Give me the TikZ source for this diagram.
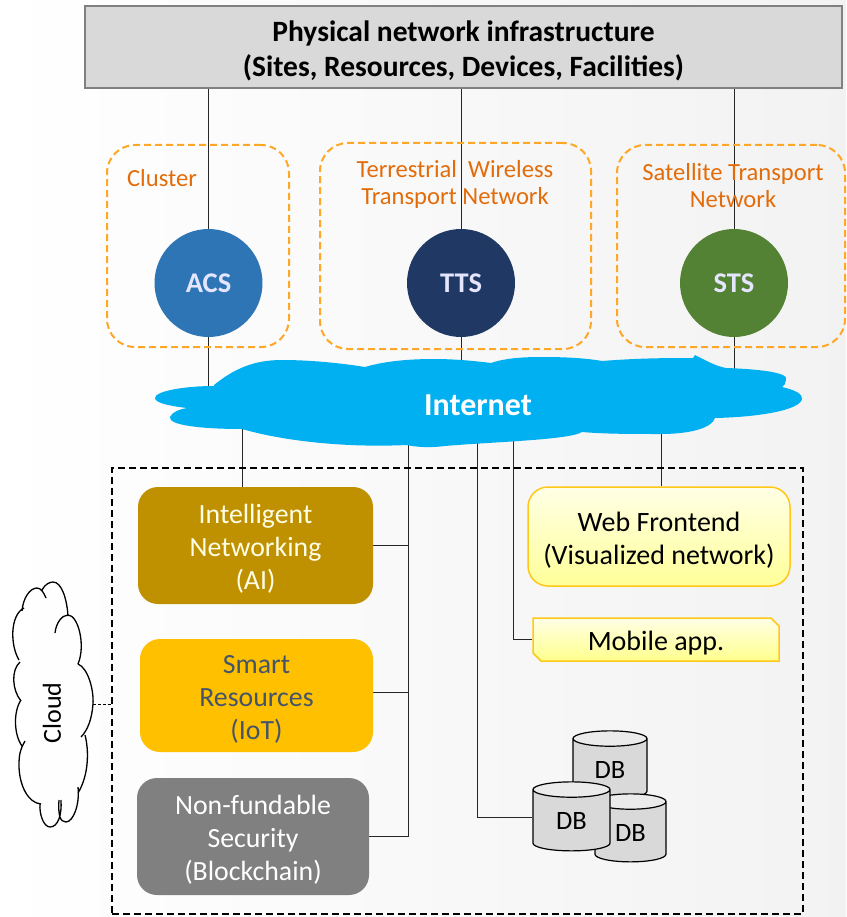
\documentclass[tikz,border=0pt]{standalone}
\usepackage{fontspec}
\setmainfont{Carlito}
\usepackage{tikz}
\usetikzlibrary{positioning,backgrounds,shapes.geometric,shapes.misc}

\definecolor{acsblue}{HTML}{2E75B6}
\definecolor{ttsblue}{HTML}{1F3864}
\definecolor{stsgreen}{HTML}{548235}
\definecolor{dashorange}{HTML}{FFA726}
\definecolor{labelorange}{HTML}{E36C0A}
\definecolor{inetblue}{HTML}{00B0F0}
\definecolor{aigold}{HTML}{BF9000}
\definecolor{iotamber}{HTML}{FFC000}
\definecolor{iottext}{HTML}{44546A}
\definecolor{frontline}{HTML}{FFC819}

\newcommand{\dropby}[1]{\rule{0pt}{#1}}

\tikzset{
  hub/.style={circle, fill=#1, minimum size=108pt, inner sep=0pt, text=white!90!blue,
    font=\fontsize{28.5}{32}\selectfont\bfseries},
  group/.style={draw=dashorange, dash pattern=on 7pt off 4pt, line width=2pt, rounded corners=28pt, inner sep=0pt},
  grouplabel/.style={text=labelorange, align=center, inner sep=0pt,
    font=\fontsize{24.6}{27}\selectfont},
  service/.style={rounded corners=20pt, fill=#1, align=center, inner sep=0pt,
    font=\fontsize{27.8}{33}\selectfont},
  front/.style={rounded corners=20pt, draw=frontline, line width=1.5pt, align=center, inner sep=0pt,
    top color=yellow!10, bottom color=yellow!40, text=black, font=\fontsize{28}{33}\selectfont},
  dbstack/.style={cylinder, shape border rotate=90, aspect=0.5, draw=black, line width=1.2pt,
    cylinder uses custom fill, cylinder body fill=black!15, cylinder end fill=black!8,
    inner sep=0pt, font=\fontsize{26.5}{30}\selectfont},
  wire/.style={draw=black!85, line width=0.8pt}
}

\begin{document}
\begin{tikzpicture}[x=1pt,y=-1pt,on grid]
   \useasboundingbox (0,0) rectangle (846,917);

   \node[draw=black!50, line width=1.5pt, fill=black!15, align=center, inner sep=0pt,
         minimum width=757pt, minimum height=82pt,
         font=\fontsize{29.5}{35}\selectfont\bfseries] (infra) at (463.5,47)
        {\dropby{28pt}Physical network infrastructure\\(Sites, Resources, Devices, Facilities)};

   % the three transport groups
   \node[hub=acsblue] (acs) at (208.5,283) {ACS};
   \node[hub=ttsblue] (tts) [right=252.5pt of acs] {TTS};
   \node[hub=stsgreen] (sts) [right=273pt of tts] {STS};

   \node[group, minimum width=182pt, minimum height=202pt] (clustergroup) at (198,246) {};
   \node[group, minimum width=271pt, minimum height=206pt] (ttsgroup) at (455.5,246) {};
   \node[group, minimum width=228pt, minimum height=202pt] (stsgroup) at (731,246) {};

   \node[grouplabel] (clusterlabel) at (162,178) {Cluster};
   \node[grouplabel] (ttslabel) at (455,184) {Terrestrial\ \ Wireless\\Transport Network};
   \node[grouplabel] (stslabel) at (733,186) {Satellite Transport\\Network};

   % internet
   \fill[inetblue] (214,385) .. controls (235,368) and (255,360) .. (282,360)
     .. controls (310,360) and (340,363) .. (365,367)
     .. controls (385,361) and (410,359) .. (434,359)
     .. controls (455,359) and (475,361) .. (491,363)
     .. controls (505,358) and (525,357) .. (541,357)
     .. controls (565,357) and (585,358) .. (602,361)
     .. controls (640,358) and (670,358) .. (693,358) -- (695,355)
     .. controls (705,360) and (715,366) .. (726,368)
     .. controls (755,369) and (790,372) .. (786,380)
     .. controls (786,383) and (784,386) .. (782,387)
     .. controls (795,390) and (803,394) .. (802,399)
     .. controls (800,410) and (760,417) .. (715,418)
     .. controls (712,428) and (690,434) .. (661,434)
     .. controls (630,434) and (605,434) .. (582,432)
     .. controls (570,440) and (490,442) .. (445,446)
     .. controls (430,448) and (415,447) .. (407,445)
     .. controls (340,448) and (280,440) .. (242,429)
     .. controls (200,429) and (168,425) .. (170,417)
     .. controls (172,412) and (180,409) .. (187,408)
     .. controls (170,406) and (155,403) .. (155,398)
     .. controls (155,391) and (185,386) .. (214,386) -- cycle;
   \node[text=white, inner sep=0pt, font=\fontsize{32}{36}\selectfont\bfseries] (internet) at (478,405) {Internet};

   % platform
   \node[draw=black, dash pattern=on 7pt off 4pt, line width=2pt, inner sep=0pt, minimum width=691pt, minimum height=446pt] (platform) at (457.5,691) {};

   \node[service=aigold, text=white!90!yellow, minimum width=235pt, minimum height=117pt] (intel) at (255.5,545.5)
        {\dropby{26pt}Intelligent\\Networking\\(AI)};
   \node[service=iotamber, text=iottext, minimum width=233pt, minimum height=113pt] (smart) at (256.5,695.5)
        {\dropby{26pt}Smart\\Resources\\(IoT)};
   \node[service=black!50, text=white, minimum width=232pt, minimum height=117pt] (secure) at (253,836.5)
        {\dropby{26pt}Non-fundable\\Security\\(Blockchain)};

   \node[front, minimum width=262pt, minimum height=99pt] (web) at (659,536.5)
        {\dropby{26pt}Web Frontend\\(Visualized network)};
   \node[chamfered rectangle, chamfered rectangle corners={north east,south west},
         chamfered rectangle xsep=4pt, chamfered rectangle ysep=4pt, draw=frontline, line width=1.5pt,
         top color=yellow!10, bottom color=yellow!45, inner sep=0pt,
         minimum width=246pt, minimum height=43pt, font=\fontsize{28}{32}\selectfont] (mobile) at (656,639.5) {\dropby{26pt}Mobile app.};

   \node[dbstack, minimum width=74pt, minimum height=68pt] (dbtop) at (610,769) {\raisebox{-9pt}[0pt][0pt]{DB}};
   \node[dbstack, minimum width=71pt, minimum height=68pt] (dbright) at (630.5,832) {\raisebox{-9pt}[0pt][0pt]{DB}};
   \node[dbstack, minimum width=77pt, minimum height=69pt] (dbfront) at (571.5,820.5) {\raisebox{-9pt}[0pt][0pt]{DB}};

   % side cloud
   \draw[black, line width=1.3pt]
     (22,611) .. controls (23,598) and (30,588) .. (37,588) .. controls (41,588) and (44,593) .. (46,598)
     (42,590) .. controls (45,584) and (50,582) .. (53,582) .. controls (62,582) and (67,600) .. (68,616)
     (55,633) .. controls (56,623) and (62,615) .. (68,615) .. controls (78,615) and (86,645) .. (78,664)
     (78,664) .. controls (88,668) and (94,690) .. (93,704) .. controls (92,718) and (88,730) .. (81,737)
     (85,735) .. controls (89,750) and (89,775) .. (78,793)
     (78,787) .. controls (80,805) and (73,822) .. (66,822) .. controls (60,822) and (58,815) .. (59,800)
     (61,800) .. controls (62,815) and (58,827) .. (50,827) .. controls (44,827) and (39,815) .. (40,803)
     (41,804) .. controls (28,803) and (19,785) .. (19,765) .. controls (19,755) and (20,750) .. (25,741)
     (22,746) .. controls (14,735) and (13,712) .. (21,700)
     (21,701) .. controls (12,690) and (11,670) .. (20,662)
     (19,660) .. controls (10,645) and (10,615) .. (24,608);
   \node[rotate=90, inner sep=0pt, font=\fontsize{26}{30}\selectfont] (cloudlabel) at (52,713) {Cloud};
   \coordinate (cloudtip) at (93,704);
   \draw[black, densely dashed, line width=0.6pt] (cloudtip) -- (cloudtip -| platform.west);

   \begin{scope}[on background layer]
     \shade[left color=white, right color=black!5, draw=none] (0,0) rectangle (846,917);
     \coordinate (trunkai) at (408,405);
     \coordinate (trunkdb) at (477.5,405);
     \coordinate (trunkapp) at (513,405);
     \coordinate (trunkweb) at (661,405);
     \coordinate (trunkintel) at (242,405);

     \path[wire]
      (infra.south -| acs) edge (acs)
      (infra.south -| tts) edge (tts)
      (infra.south -| sts) edge (sts)
      (acs) edge (acs |- internet)
      (tts) edge (tts |- internet)
      (sts) edge (sts |- internet)
      (trunkintel) edge (trunkintel |- intel.north)
      (trunkweb) edge (trunkweb |- web.north);

     \draw[wire] (trunkai) |- (secure.east);
     \draw[wire] (trunkai |- intel.east) -- (intel.east);
     \draw[wire] ([yshift=3pt]smart.east) -- ([yshift=3pt]smart.east -| trunkai);
     \draw[wire] (trunkdb) |- ([yshift=3pt]dbfront.west);
     \draw[wire] (trunkapp) |- (mobile.west);
   \end{scope}
\end{tikzpicture}
\end{document}
